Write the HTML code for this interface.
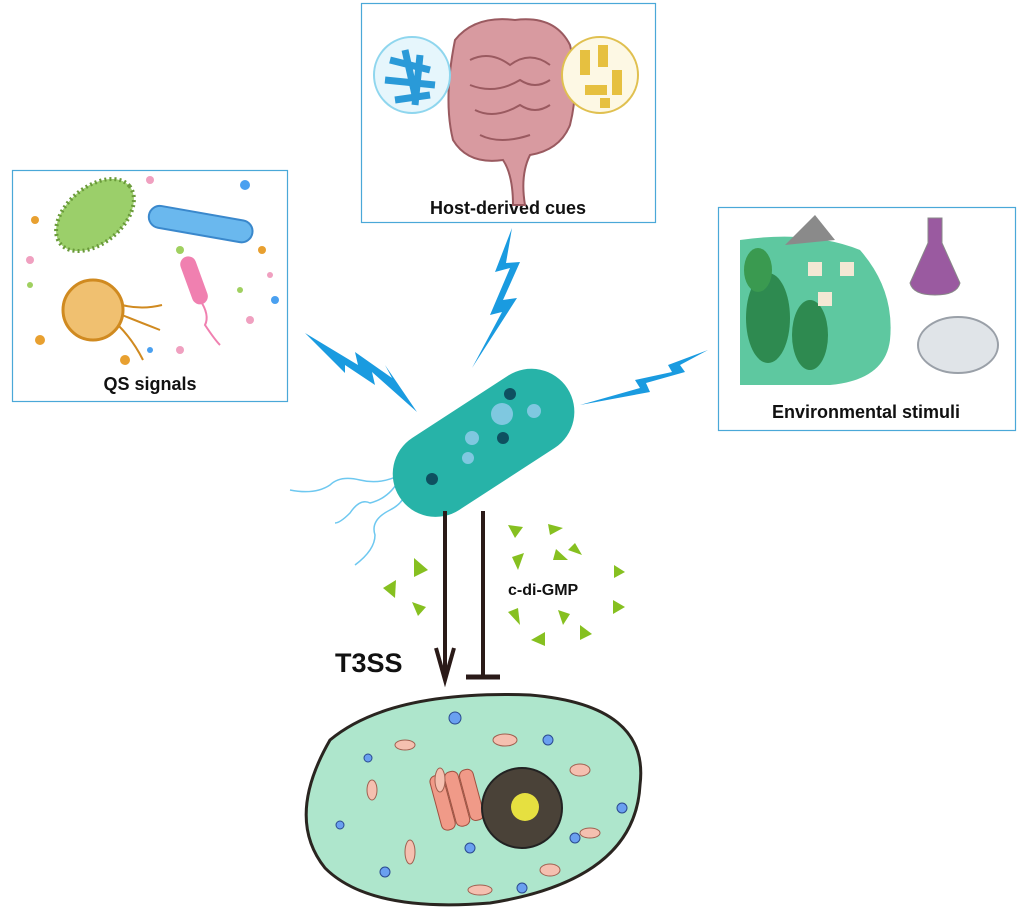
<!DOCTYPE html>
<html><head><style>
html,body{margin:0;padding:0;background:#fff;}
svg{display:block;}
text{font-family:"Liberation Sans",Arial,sans-serif;font-weight:bold;fill:#111;}
</style></head><body>
<svg width="1024" height="924" viewBox="0 0 1024 924" xmlns="http://www.w3.org/2000/svg">
<rect x="12.5" y="170.5" width="275" height="231" fill="none" stroke="#4aa8d8" stroke-width="1.2"/>
<rect x="361.5" y="3.5" width="294" height="219" fill="none" stroke="#4aa8d8" stroke-width="1.2"/>
<rect x="718.5" y="207.5" width="297" height="223" fill="none" stroke="#4aa8d8" stroke-width="1.2"/>
<text x="150" y="390" font-size="18" text-anchor="middle">QS signals</text>
<text x="508" y="214" font-size="18" text-anchor="middle">Host-derived cues</text>
<text x="866" y="418" font-size="18" text-anchor="middle">Environmental stimuli</text>

<g transform="rotate(-40 95 215)"><ellipse cx="95" cy="215" rx="45" ry="28" fill="#9bcf6a" stroke="#6a9a3a" stroke-width="4" stroke-dasharray="2 3"/></g>
<g transform="rotate(10 200 225)"><rect x="148" y="213" width="105" height="22" rx="11" fill="#6ab8ee" stroke="#3a88cc" stroke-width="2"/></g>
<circle cx="93" cy="310" r="30" fill="#f0c070" stroke="#d08a20" stroke-width="3"/>
<path d="M122 305 q20 5 40 0 M122 315 q20 8 38 15 M118 325 q15 15 25 35" stroke="#d08a20" stroke-width="2" fill="none"/>
<g transform="rotate(-20 195 280)"><rect x="186" y="255" width="16" height="50" rx="8" fill="#f080b0"/></g>
<path d="M200 300 q10 15 5 25 q10 15 15 20" stroke="#f080b0" stroke-width="2" fill="none"/>
<g fill="#e8a030"><circle cx="35" cy="220" r="4"/><circle cx="40" cy="340" r="5"/><circle cx="125" cy="360" r="5"/><circle cx="262" cy="250" r="4"/></g>
<g fill="#f0a0c0"><circle cx="30" cy="260" r="4"/><circle cx="150" cy="180" r="4"/><circle cx="180" cy="350" r="4"/><circle cx="250" cy="320" r="4"/><circle cx="270" cy="275" r="3"/></g>
<g fill="#4aa0f0"><circle cx="245" cy="185" r="5"/><circle cx="275" cy="300" r="4"/><circle cx="150" cy="350" r="3"/></g>
<g fill="#a0d060"><circle cx="180" cy="250" r="4"/><circle cx="30" cy="285" r="3"/><circle cx="240" cy="290" r="3"/></g>

<path d="M455 40 q20 -25 60 -20 q40 -5 55 25 q10 40 0 80 q-10 25 -40 30 q-10 20 -5 50 l-12 0 q0 -30 -10 -45 q-35 5 -50 -20 q-10 -40 2 -100z" fill="#d89aa0" stroke="#9a5a60" stroke-width="2"/>
<path d="M470 60 q20 -10 40 5 q20 -15 40 0 M470 85 q25 10 50 -5 q15 10 30 0 M475 110 q20 10 45 -5 q15 10 30 0 M480 135 q20 10 50 0" stroke="#9a5a60" stroke-width="2" fill="none"/>
<circle cx="412" cy="75" r="38" fill="#e6f6fc" stroke="#8fd6ee" stroke-width="2"/>
<path d="M390 60 l40 10 M385 80 l50 5 M395 100 l35 -5 M405 50 l10 45 M420 55 l-5 50" stroke="#2a9ad8" stroke-width="7"/>
<circle cx="600" cy="75" r="38" fill="#fdf8e4" stroke="#e0c050" stroke-width="2"/>
<g fill="#e6c040"><rect x="580" y="50" width="10" height="25"/><rect x="598" y="45" width="10" height="22"/><rect x="612" y="70" width="10" height="25"/><rect x="585" y="85" width="22" height="10"/><rect x="600" y="98" width="10" height="10"/></g>

<path d="M740 240 q70 -10 120 10 q35 40 30 90 q-5 40 -60 45 l-90 0 z" fill="#5ec8a0"/>
<polygon points="785,245 815,215 835,240" fill="#8a8a8a"/>
<ellipse cx="768" cy="318" rx="22" ry="45" fill="#2e8a50"/>
<ellipse cx="810" cy="335" rx="18" ry="35" fill="#2e8a50"/>
<ellipse cx="758" cy="270" rx="14" ry="22" fill="#3a9a50"/>
<rect x="808" y="262" width="14" height="14" fill="#f4e8d4"/><rect x="840" y="262" width="14" height="14" fill="#f4e8d4"/><rect x="818" y="292" width="14" height="14" fill="#f4e8d4"/>
<path d="M928 218 l14 0 l0 25 l18 40 q-3 12 -25 12 q-22 0 -25 -12 l18 -40 z" fill="#9a5aa0" stroke="#888"/>
<ellipse cx="958" cy="345" rx="40" ry="28" fill="#e0e4e8" stroke="#9aa0a8" stroke-width="2"/>

<g fill="#1a9be0">
<polygon points="305,333 358,365 355,352 392,378 385,365 417,412 372,372 375,385 345,365 345,373"/>
<polygon points="512,228 495,272 510,268 490,315 502,312 472,368 517,298 503,300 520,262 506,263"/>
<polygon points="708,350 668,365 672,372 635,380 640,388 580,405 650,392 646,383 685,372 680,365"/>
</g>

<path d="M400 475 q-20 10 -40 5 q-20 -5 -30 5 q-15 10 -40 5" stroke="#6ec8f0" stroke-width="1.5" fill="none"/>
<path d="M400 478 q-10 20 -30 25 q-10 -5 -20 10 q-10 10 -15 10" stroke="#6ec8f0" stroke-width="1.5" fill="none"/>
<path d="M405 480 q5 20 -15 30 q-20 10 -15 25 q0 15 -20 30" stroke="#6ec8f0" stroke-width="1.5" fill="none"/>
<g transform="rotate(-33 483 442)">
<rect x="383" y="400" width="200" height="86" rx="43" fill="#27b3a8"/>
</g>
<circle cx="510" cy="394" r="6" fill="#0e5060"/>
<circle cx="503" cy="438" r="6" fill="#0e5060"/>
<circle cx="432" cy="479" r="6" fill="#0e5060"/>
<circle cx="502" cy="414" r="11" fill="#7fc8e0"/>
<circle cx="534" cy="411" r="7" fill="#7fc8e0"/>
<circle cx="472" cy="438" r="7" fill="#7fc8e0"/>
<circle cx="468" cy="458" r="6" fill="#7fc8e0"/>

<line x1="445" y1="511" x2="445" y2="676" stroke="#2a1a18" stroke-width="4"/>
<path d="M436 648 L445 680 L454 648" stroke="#2a1a18" stroke-width="4" fill="none"/>
<line x1="483" y1="511" x2="483" y2="676" stroke="#2a1a18" stroke-width="4"/>
<line x1="466" y1="677" x2="500" y2="677" stroke="#2a1a18" stroke-width="5"/>
<text x="335" y="672" font-size="27">T3SS</text>
<text x="508" y="595" font-size="16">c-di-GMP</text>
<g fill="#86c020">
<polygon points="414,558 428,570 414,577"/><polygon points="383,588 396,580 395,598"/><polygon points="412,602 426,607 418,616"/>
<polygon points="508,525 523,527 515,538"/><polygon points="548,524 563,528 550,535"/><polygon points="575,543 582,555 568,550"/>
<polygon points="512,557 524,553 518,570"/><polygon points="556,549 568,560 553,560"/><polygon points="614,565 625,572 614,578"/>
<polygon points="613,600 625,607 613,614"/><polygon points="508,612 518,608 520,625"/><polygon points="558,610 570,614 563,625"/>
<polygon points="531,640 545,632 545,646"/><polygon points="580,625 592,634 580,640"/>
</g>

<path d="M330 740 q60 -50 200 -45 q120 10 110 90 q-5 95 -150 118 q-120 10 -165 -35 q-40 -50 5 -128z" fill="#aee6cc" stroke="#2a2520" stroke-width="3"/>
<g transform="rotate(-15 460 798)"><rect x="435" y="770" width="14" height="56" rx="6" fill="#f09a88" stroke="#a05040"/><rect x="450" y="770" width="14" height="56" rx="6" fill="#f09a88" stroke="#a05040"/><rect x="465" y="772" width="14" height="52" rx="6" fill="#f09a88" stroke="#a05040"/></g>
<circle cx="522" cy="808" r="40" fill="#4a4238" stroke="#222" stroke-width="2"/>
<circle cx="525" cy="807" r="14" fill="#e6e040"/>
<g fill="#f5c0b0" stroke="#a06050"><ellipse cx="405" cy="745" rx="10" ry="5"/><ellipse cx="505" cy="740" rx="12" ry="6"/><ellipse cx="580" cy="770" rx="10" ry="6"/><ellipse cx="372" cy="790" rx="5" ry="10"/><ellipse cx="410" cy="852" rx="5" ry="12"/><ellipse cx="480" cy="890" rx="12" ry="5"/><ellipse cx="550" cy="870" rx="10" ry="6"/><ellipse cx="440" cy="780" rx="5" ry="12"/><ellipse cx="590" cy="833" rx="10" ry="5"/></g>
<g fill="#6aa0f0" stroke="#2a4a90"><circle cx="455" cy="718" r="6"/><circle cx="548" cy="740" r="5"/><circle cx="622" cy="808" r="5"/><circle cx="575" cy="838" r="5"/><circle cx="470" cy="848" r="5"/><circle cx="385" cy="872" r="5"/><circle cx="340" cy="825" r="4"/><circle cx="368" cy="758" r="4"/><circle cx="522" cy="888" r="5"/></g>
</svg>
</body></html>
